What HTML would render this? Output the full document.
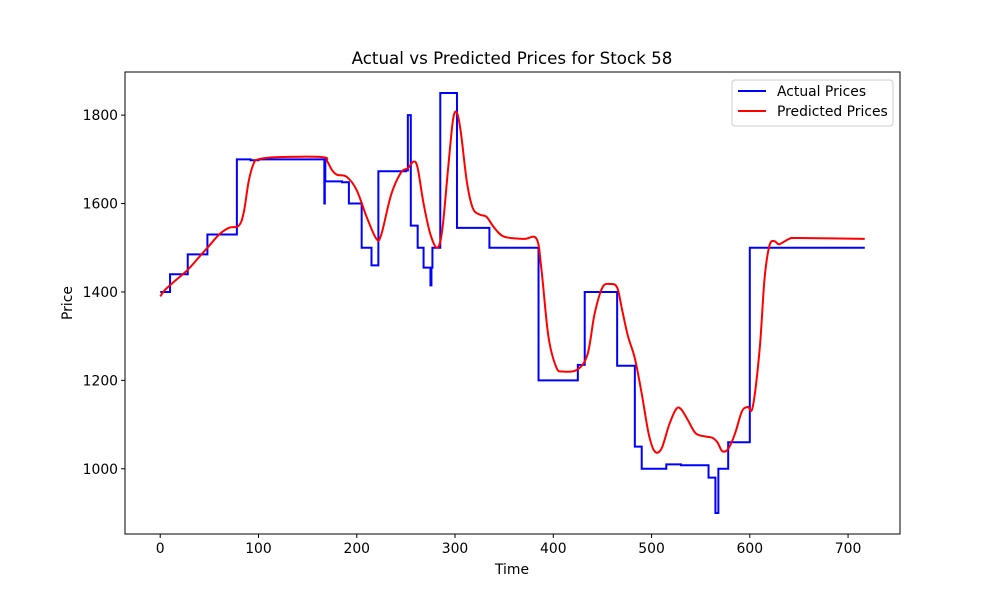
<!DOCTYPE html>
<html><head><meta charset="utf-8">
<style>
body{margin:0;background:#fff;}
svg text{font-family:"DejaVu Sans","Liberation Sans",sans-serif;fill:#000;}
</style></head>
<body>
<svg id="chart" width="1000" height="600" xmlns="http://www.w3.org/2000/svg">
<rect width="1000" height="600" fill="#fff"/>
<text x="512" y="64" font-size="16.7" text-anchor="middle">Actual vs Predicted Prices for Stock 58</text>
<g id="plot"></g>
<text x="512" y="574" font-size="13.9" text-anchor="middle">Time</text>
<text x="72" y="303" font-size="13.9" text-anchor="middle" transform="rotate(-90 72 303)">Price</text>
<g>
<rect x="732" y="80" width="161" height="46" fill="#fff" fill-opacity="0.8" stroke="#ccc" rx="3"/>
<line x1="738" y1="91" x2="766" y2="91" stroke="#0000ff" stroke-width="2"/>
<text x="777" y="96" font-size="13.9">Actual Prices</text>
<line x1="738" y1="111" x2="766" y2="111" stroke="#ff0000" stroke-width="2"/>
<text x="777" y="116" font-size="13.9">Predicted Prices</text>
</g>
</svg>
<script>
const actualT=[0,10,28,48,78,92,100,167,167.5,168,185,192,205,215,222,250,252,255,262,268,275,276,277,285,302,335,385,425,432,465,483,490,515,530,558,565,568,578,600,717];
const actualP=[1400,1440,1485,1530,1700,1698,1700,1600,1700,1650,1648,1600,1500,1460,1673,1675,1800,1550,1500,1455,1415,1455,1500,1850,1545,1500,1200,1235,1400,1233,1050,1000,1010,1008,980,900,1000,1060,1500,1500];
const predT=[0,5,15,28,40,50,60,70,80,85,90,95,100,120,165,170,175,180,190,200,210,220,225,235,245,252,258,262,268,275,282,287,293,298,302,306,312,318,325,332,340,350,370,383,388,395,403,410,425,435,442,450,458,465,470,476,483,490,497,503,510,518,525,530,537,545,555,562,567,572,578,585,592,598,603,610,615,620,625,630,640,650,717];
const predP=[1390,1405,1425,1450,1480,1505,1530,1545,1550,1580,1650,1690,1700,1705,1705,1695,1675,1665,1660,1630,1570,1520,1530,1620,1670,1680,1695,1680,1600,1530,1500,1540,1680,1790,1805,1760,1650,1590,1575,1570,1545,1525,1520,1520,1450,1300,1230,1220,1225,1260,1350,1410,1418,1410,1360,1300,1250,1170,1080,1040,1045,1100,1135,1135,1110,1080,1073,1070,1060,1040,1045,1080,1130,1140,1140,1270,1430,1505,1515,1508,1520,1522,1520];
const xTicks=[0,100,200,300,400,500,600,700];
const yTicks=[1000,1200,1400,1600,1800];
const L=125,R=900,T=72,B=534;
const x0=-35.85,x1=752.85,y0=852.5,y1=1897.5;
const sx=t=>L+(t-x0)/(x1-x0)*(R-L);
const sy=p=>B-(p-y0)/(y1-y0)*(B-T);
const NS="http://www.w3.org/2000/svg";
const g=document.getElementById('plot');
function mk(tag,attrs){const e=document.createElementNS(NS,tag);for(const k in attrs)e.setAttribute(k,attrs[k]);g.appendChild(e);return e;}
// actual step path
let d='M'+sx(actualT[0])+','+sy(actualP[0]);
for(let i=1;i<actualT.length;i++){d+=' L'+sx(actualT[i])+','+sy(actualP[i-1])+' L'+sx(actualT[i])+','+sy(actualP[i]);}
const a=mk('path',{d:d,fill:'none',stroke:'#0000ff','stroke-width':2,'stroke-linejoin':'miter'});


// predicted catmull-rom
const pts=predT.map((t,i)=>[sx(t),sy(predP[i])]);
let pd='M'+pts[0][0]+','+pts[0][1];
for(let i=0;i<pts.length-1;i++){const p0=pts[Math.max(0,i-1)],p1=pts[i],p2=pts[i+1],p3=pts[Math.min(pts.length-1,i+2)];
pd+=' C'+(p1[0]+(p2[0]-p0[0])/6)+','+(p1[1]+(p2[1]-p0[1])/6)+' '+(p2[0]-(p3[0]-p1[0])/6)+','+(p2[1]-(p3[1]-p1[1])/6)+' '+p2[0]+','+p2[1];}
const p=mk('path',{d:pd,fill:'none',stroke:'#ff0000','stroke-width':2});


const fr=mk('rect',{x:L,y:T,width:R-L,height:B-T,fill:'none',stroke:'#000','stroke-width':1});


xTicks.forEach(t=>{const x=sx(t);
const l=mk('line',{x1:x,x2:x,y1:B,y2:B+4,stroke:'#000'});


const tx=mk('text',{x:x,y:B+19,'font-size':13.9,'text-anchor':'middle'});tx.textContent=t;

});
yTicks.forEach(v=>{const y=sy(v);
const l=mk('line',{x1:L-4,x2:L,y1:y,y2:y,stroke:'#000'});


const tx=mk('text',{x:L-7,y:y+5,'font-size':13.9,'text-anchor':'end'});tx.textContent=v;

});
</script>
</body></html>
